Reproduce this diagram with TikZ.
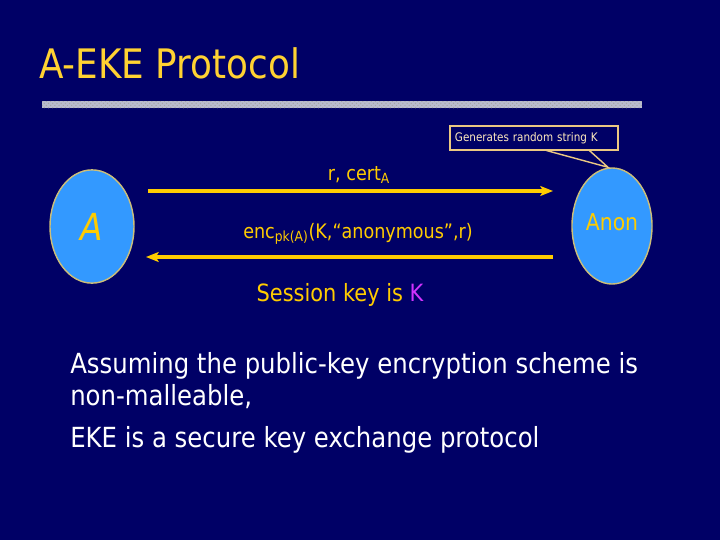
\documentclass[tikz,border=0pt]{standalone}
\usepackage{fontspec}
\setmainfont[FakeStretch=0.88]{DejaVu Sans}
\usepackage{xcolor}
\usetikzlibrary{positioning,shapes,arrows.meta,patterns}
\definecolor{slidebg}{RGB}{0,0,102}
\definecolor{gold}{RGB}{255,204,0}
\definecolor{titlecol}{RGB}{255,210,50}
\definecolor{partyfill}{RGB}{51,153,255}
\definecolor{partyline}{RGB}{205,190,120}
\definecolor{notecol}{RGB}{235,200,130}
\definecolor{notetext}{RGB}{255,235,190}
\definecolor{keycol}{RGB}{210,50,255}
\definecolor{barcol}{RGB}{185,187,205}
\tikzstyle{party}=[ellipse, draw=partyline, fill=partyfill, line width=1pt, inner sep=0pt,
        text=gold]
\tikzstyle{notebox}=[rectangle, draw=notecol, line width=0.8pt, text=notetext, align=left,
        font=\fontsize{8.4}{10}\selectfont, minimum width=4.2cm, minimum height=0.6cm,
        text width=3.95cm, inner sep=0pt]
\tikzstyle{pointer}=[-, draw=notecol, line width=1pt]
\tikzstyle{msg}=[-{Stealth[length=9pt,width=7pt,inset=2pt]}, draw=gold, line width=2.8pt]
\tikzstyle{label}=[text=gold, font=\fontsize{14.2}{16}\selectfont]

\begin{document}
\begin{tikzpicture}[x=0.025cm, y=-0.025cm]
    \useasboundingbox (0,0) rectangle (720,540);
    \fill[slidebg] (0,0) rectangle (720,540);
    % title and ruler
    \node (title) [anchor=base west, text=titlecol, inner sep=0pt,
        font=\fontsize{28.9}{34}\selectfont] at (39,78) {A-EKE Protocol};
    \fill[barcol] (42,101) rectangle (642,108);
    \fill[pattern=crosshatch dots, pattern color=gray!70] (42,101) rectangle (642,108);
    % parties
    \node (A) [party, minimum width=2.1cm, minimum height=2.83cm,
        font=\itshape\fontsize{26.5}{30}\selectfont] at (92,226.5) {A};
    \node (Anon) [party, minimum width=2.0cm, minimum height=2.9cm,
        font=\fontsize{16.5}{20}\selectfont, text depth=0.2cm] at (612,226) {Anon};
    % note on Anon
    \node (note) [notebox] at (534,138) {Generates random string K};
    \draw[pointer] ([xshift=2.43cm]note.south west) -- ([xshift=-0.1cm]Anon.north)
        -- ([xshift=3.5cm]note.south west);
    % messages
    \coordinate (m1s) at (148,191);
    \coordinate (m1e) at (553,191);
    \coordinate (m2s) at (553,257);
    \coordinate (m2e) at (146,257);
    \draw[msg] (m1s) -- (m1e);
    \draw[msg] (m2s) -- (m2e);
    \node (cert) [label] at (359,175) {r, cert\textsubscript{A}};
    \node (enc) [label] at (358,234) {enc\textsubscript{pk(A)}(K,“anonymous”,r)};
    \node (session) [label, font=\fontsize{16.9}{19}\selectfont] at (340,295)
        {Session key is {\color{keycol}K}};
    % claim
    \node (claim) [anchor=north west, text=white, align=left, inner sep=0pt,
        font=\fontsize{19.7}{22.7}\selectfont] at (70,352)
        {Assuming the public-key encryption scheme is\\
         non-malleable,\\[7pt]
         EKE is a secure key exchange protocol};
\end{tikzpicture}
\end{document}
